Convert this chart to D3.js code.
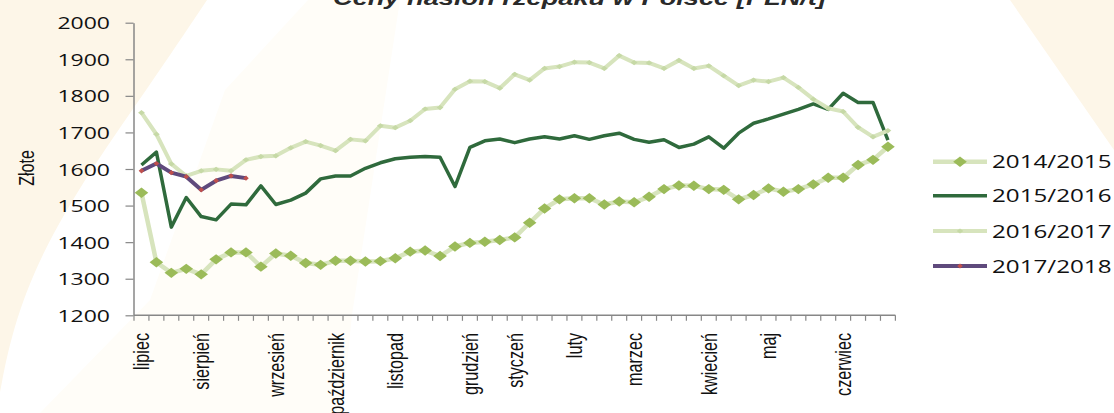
<!DOCTYPE html>
<html>
<head>
<meta charset="utf-8">
<script src="https://cdn.jsdelivr.net/npm/d3@7"></script>
<style>
  body { margin: 0; background: #fff; overflow: hidden; }
  svg { display: block; }
</style>
</head>
<body>
<script>
// --- data (PLN/t, weekly, July..June) ---
const seasons = ['2014/2015', '2015/2016', '2016/2017', '2017/2018'];
const months = ['lipiec', 'sierpień', 'wrzesień', 'październik', 'listopad', 'grudzień',
  'styczeń', 'luty', 'marzec', 'kwiecień', 'maj', 'czerwiec'];
const monthWeek = [0, 4, 9, 13, 17, 22, 25, 29, 33, 38, 42, 47];
const weekCount = 51;
const yTicks = [1200, 1300, 1400, 1500, 1600, 1700, 1800, 1900, 2000];

const s1415 = [1535, 1345, 1316, 1327, 1312, 1353, 1372, 1372, 1333, 1369, 1363, 1343, 1338,
  1349, 1349, 1347, 1348, 1356, 1374, 1377, 1362, 1388, 1398, 1401, 1406, 1413, 1453, 1492,
  1517, 1520, 1520, 1503, 1511, 1509, 1524, 1545, 1555, 1554, 1545, 1543, 1517, 1529, 1547,
  1538, 1545, 1558, 1576, 1576, 1611, 1625, 1661];
const s1516 = [1611, 1646, 1441, 1522, 1470, 1461, 1504, 1502, 1554, 1503, 1515, 1534, 1573,
  1581, 1581, 1602, 1617, 1628, 1632, 1634, 1632, 1552, 1659, 1677, 1682, 1672, 1682, 1688,
  1682, 1691, 1681, 1691, 1698, 1681, 1673, 1680, 1659, 1668, 1688, 1657, 1698, 1725, 1737,
  1750, 1763, 1778, 1763, 1807, 1782, 1782, 1679];
const s1617 = [1754, 1695, 1614, 1581, 1595, 1599, 1595, 1625, 1634, 1636, 1658, 1675, 1664,
  1650, 1681, 1677, 1718, 1713, 1732, 1764, 1768, 1818, 1840, 1839, 1821, 1859, 1843, 1875,
  1880, 1892, 1891, 1875, 1910, 1891, 1890, 1875, 1897, 1875, 1882, 1855, 1828, 1843, 1839,
  1850, 1823, 1791, 1766, 1757, 1714, 1688, 1705];
const s1718 = [1595, 1615, 1590, 1579, 1543, 1568, 1581, 1575];

const weekLabels = d3.range(weekCount).map(i => {
  const m = monthWeek.indexOf(i);
  return m < 0 ? '' : months[m];
});

// --- look ---
const W = 1114, H = 413;
const SX = 1.37;               // the source picture is stretched sideways
const cream = '#fdf6e8';
const axisColor = '#878787';
const textColor = '#111';
const numFont = '"Open Sans", "Noto Sans", sans-serif';
const labelFont = '"Liberation Sans", Arial, sans-serif';

const styles = [
  { line: '#d7e4bd', width: 4.5, marker: 'big', mColor: '#9bbb59' },
  { line: '#2f6a3c', width: 3.5, marker: null },
  { line: '#d7e4bd', width: 4, marker: 'small', mColor: '#c6d9a6' },
  { line: '#5f4a7c', width: 4, marker: 'dot', mColor: '#c0504d' }
];
const series = [s1415, s1516, s1617, s1718];

const svg = d3.select('body').append('svg').attr('width', W).attr('height', H);

// background: cream slide with white diagonal panel
svg.append('rect').attr('width', W).attr('height', H).attr('fill', cream);
const curve = d3.line().curve(d3.curveBasis);
svg.append('path')
  .attr('d', curve([[207, 0], [150, 85], [90, 170], [40, 255], [12, 330], [0, 392]]) +
    'L0,' + H + 'L' + W + ',' + H + 'L' + W + ',150L1010,0Z')
  .attr('fill', '#fff');
svg.append('path')
  .attr('d', 'M308,0L400,0L352,315L342,' + H + 'L40,' + H + 'L150,300L225,90Z')
  .attr('fill', '#fffdf8');

const x = d3.scaleBand().domain(d3.range(weekCount)).range([134, 895.4]);
const cx = i => x(i) + x.bandwidth() / 2;
const y = d3.scaleLinear().domain([1200, 2000]).range([315.3, 22.7]);

function stretch(sel, k) {
  sel.each(function () {
    const len = this.getComputedTextLength();
    d3.select(this).attr('textLength', len * k).attr('lengthAdjust', 'spacingAndGlyphs');
  });
}

// title, cut by the top edge
svg.append('text')
  .attr('x', 333).attr('y', 4.5)
  .attr('font-family', labelFont).attr('font-weight', 'bold').attr('font-style', 'italic')
  .attr('font-size', 21).attr('fill', '#2a2a2a')
  .attr('textLength', 493).attr('lengthAdjust', 'spacingAndGlyphs')
  .text('Ceny nasion rzepaku w Polsce [PLN/t]');

// y axis
const gy = svg.append('g').attr('transform', 'translate(133.5,0)')
  .call(d3.axisLeft(y).tickValues(yTicks).tickSize(8).tickSizeOuter(0).tickFormat(d3.format('d')));
gy.select('.domain').attr('stroke', axisColor).attr('stroke-width', 1.5);
gy.selectAll('.tick line').attr('stroke', axisColor).attr('stroke-width', 1.2);
gy.selectAll('.tick text')
  .attr('x', -23.5).attr('dy', '0.36em')
  .attr('font-family', numFont).attr('font-size', 16.8).attr('font-weight', 500)
  .attr('fill', textColor)
  .call(stretch, SX);

// y title
svg.append('text')
  .attr('transform', `translate(27,168) scale(${SX},1) rotate(-90)`)
  .attr('text-anchor', 'middle').attr('dominant-baseline', 'central')
  .attr('font-family', labelFont).attr('font-size', 16).attr('fill', textColor)
  .text('Złote');

// x axis: line, ticks between weeks, month labels
const gx = svg.append('g');
const x0 = x.range()[0];
gx.append('line')
  .attr('x1', x0).attr('x2', x.range()[1]).attr('y1', y(1200)).attr('y2', y(1200))
  .attr('stroke', axisColor).attr('stroke-width', 1.5);
gx.selectAll('line.tk').data(d3.range(weekCount + 1)).join('line').attr('class', 'tk')
  .attr('x1', i => x0 + i * x.step()).attr('x2', i => x0 + i * x.step())
  .attr('y1', y(1200)).attr('y2', y(1200) + 5.5)
  .attr('stroke', axisColor).attr('stroke-width', 1.2);
gx.selectAll('text').data(d3.range(weekCount).filter(i => weekLabels[i])).join('text')
  .attr('transform', i => `translate(${cx(i)},333) scale(${SX},1) rotate(-90)`)
  .attr('text-anchor', 'end').attr('dominant-baseline', 'central')
  .attr('font-family', labelFont).attr('font-size', 16.2).attr('fill', textColor)
  .text(i => weekLabels[i]);

// markers
function markerPath(kind) {
  const p = d3.path();
  const [w, h] = kind === 'big' ? [6.8, 5.2] : kind === 'small' ? [3.4, 2.6] : [2.8, 2.6];
  p.moveTo(0, -h); p.lineTo(w, 0); p.lineTo(0, h); p.lineTo(-w, 0); p.closePath();
  return p.toString();
}

const line = d3.line().x((d, i) => cx(i)).y(d => y(d));
const plot = svg.append('g');
series.forEach((vals, s) => {
  const st = styles[s];
  const g = plot.append('g');
  g.append('path').attr('d', line(vals))
    .attr('fill', 'none').attr('stroke', st.line).attr('stroke-width', st.width)
    .attr('stroke-linejoin', 'round');
  if (st.marker) {
    g.selectAll('path.m').data(vals).join('path').attr('class', 'm')
      .attr('transform', (d, i) => `translate(${cx(i)},${y(d)})`)
      .attr('d', markerPath(st.marker))
      .attr('fill', st.mColor);
  }
});

// legend
const legend = svg.append('g');
const rowY = [161.7, 195.7, 231, 266];
seasons.forEach((name, s) => {
  const st = styles[s];
  const g = legend.append('g').attr('transform', `translate(0,${rowY[s]})`);
  g.append('line').attr('x1', 933).attr('x2', 987)
    .attr('stroke', st.line).attr('stroke-width', st.width);
  if (st.marker) {
    g.append('path').attr('transform', 'translate(960,0)')
      .attr('d', markerPath(st.marker)).attr('fill', st.mColor);
  }
  g.append('text').attr('x', 992).attr('y', 6.6)
    .attr('font-family', numFont).attr('font-size', 18.2).attr('font-weight', 500)
    .attr('fill', textColor)
    .text(name)
    .call(stretch, 1.33);
});
</script>
</body>
</html>
